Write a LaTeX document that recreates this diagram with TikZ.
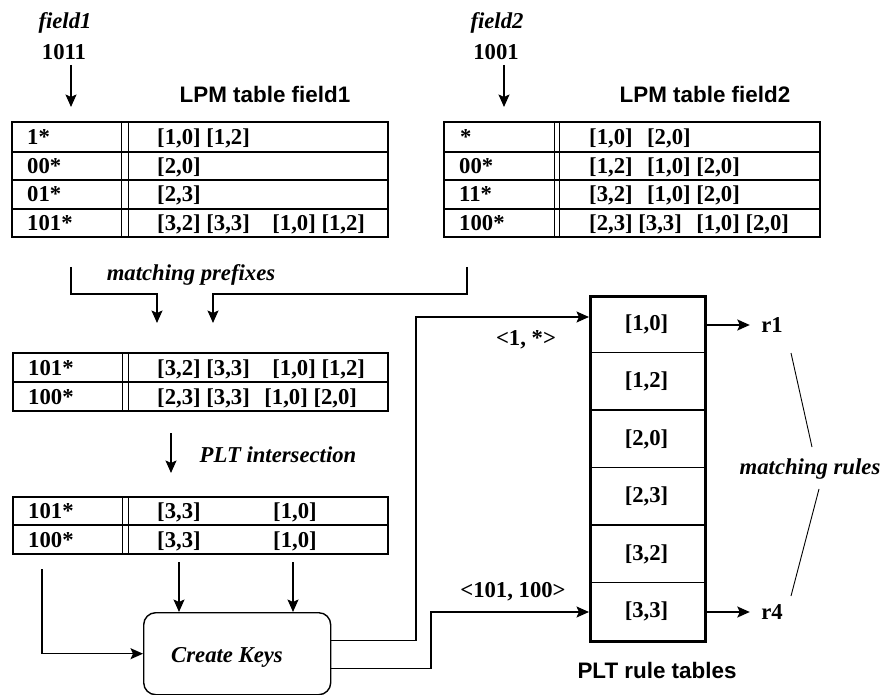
\documentclass[tikz,border=0pt]{standalone}
\usepackage{fontspec}
\setmainfont{Liberation Serif}
\newfontfamily\hsans{Liberation Sans}
\usetikzlibrary{arrows.meta,calc}
\begin{document}
\begin{tikzpicture}[x=1pt,y=-1pt,
  txt/.style={font=\fontsize{22.7}{26}\selectfont\bfseries, inner sep=0pt, anchor=base west},
  ctxt/.style={font=\fontsize{22.7}{26}\selectfont\bfseries, inner sep=0pt},
  itl/.style={font=\fontsize{22.7}{26}\selectfont\bfseries\itshape, inner sep=0pt},
  hd/.style={font=\hsans\fontsize{22.4}{26}\selectfont\bfseries, inner sep=0pt},
  arr/.style={line width=1.5pt, -{Stealth[length=12.5pt,width=11pt,inset=2.5pt]}},
  frame/.style={line width=2.8pt},
  rowline/.style={line width=1.8pt},
  thinframe/.style={line width=1.4pt},
  dbl/.style={line width=0.9pt}
]
\useasboundingbox (0,0) rectangle (884,695);

% ---------- headings and inputs
\node[itl] (f1) at (65,23) {field1};
\node[ctxt] (v1) at (64,52) {1011};
\node[itl] (f2) at (497,23) {field2};
\node[ctxt] (v2) at (496,52) {1001};
\node[hd] (h1) at (265,94) {LPM table field1};
\node[hd] (h2) at (705,94) {LPM table field2};
\coordinate (a1s) at (71,65); \coordinate (a1e) at (71,107);
\coordinate (a2s) at (504,65); \coordinate (a2e) at (504,107);
\draw[arr] (a1s) -- (a1e);
\draw[arr] (a2s) -- (a2e);

% ---------- LPM table field1
\draw[frame] (12,122) rectangle (388,237);
\draw[rowline] (12,152) -- (388,152) (12,180) -- (388,180) (12,209) -- (388,209);
\draw[dbl] (121,122) -- (121,237) (128,122) -- (128,237);
\node[txt] (t1a) at (27,144.5) {1*};
\node[txt] (t1b) at (27,173.5) {00*};
\node[txt] (t1c) at (27,202) {01*};
\node[txt] (t1d) at (27,230.5) {101*};
\node[txt] (t1e) at (157,144.5) {[1,0] [1,2]};
\node[txt] (t1f) at (157,173.5) {[2,0]};
\node[txt] (t1g) at (157,202) {[2,3]};
\node[txt] (t1h) at (157,230.5) {[3,2] [3,3]\hspace{22.5pt}[1,0] [1,2]};

% ---------- LPM table field2
\draw[frame] (444,122) rectangle (820,237);
\draw[rowline] (444,152) -- (820,152) (444,180) -- (820,180) (444,209) -- (820,209);
\draw[dbl] (554,122) -- (554,237) (559,122) -- (559,237);
\node[txt] (t2a) at (460,144.5) {*};
\node[txt] (t2b) at (459,173.5) {00*};
\node[txt] (t2c) at (459,202) {11*};
\node[txt] (t2d) at (459,230.5) {100*};
\node[txt] (t2e) at (589,144.5) {[1,0]\hspace{14.5pt}[2,0]};
\node[txt] (t2f) at (589,173.5) {[1,2]\hspace{14.5pt}[1,0] [2,0]};
\node[txt] (t2g) at (589,202) {[3,2]\hspace{14.5pt}[1,0] [2,0]};
\node[txt] (t2h) at (589,230.5) {[2,3] [3,3]\hspace{14.5pt}[1,0] [2,0]};

% ---------- matching prefixes
\node[itl] (mp) at (191,275) {matching prefixes};
\coordinate (m1a) at (71,267); \coordinate (m1b) at (71,294);
\coordinate (m1c) at (157,294); \coordinate (m1d) at (157,323);
\coordinate (m2a) at (467,267); \coordinate (m2b) at (467,294);
\coordinate (m2c) at (213,294); \coordinate (m2d) at (213,323);
\draw[arr] (m1a) -- (m1b) -- (m1c) -- (m1d);
\draw[arr] (m2a) -- (m2b) -- (m2c) -- (m2d);

% ---------- matched table
\draw[thinframe] (13,353) rectangle (388,411);
\draw[thinframe] (13,382) -- (388,382);
\draw[dbl] (122,353) -- (122,411) (128,353) -- (128,411);
\node[txt] (t3a) at (28,375) {101*};
\node[txt] (t3b) at (28,404) {100*};
\node[txt] (t3c) at (157,375) {[3,2] [3,3]\hspace{22.5pt}[1,0] [1,2]};
\node[txt] (t3d) at (157,404) {[2,3] [3,3]\hspace{14.5pt}[1,0] [2,0]};

% ---------- PLT intersection
\coordinate (pis) at (171,433); \coordinate (pie) at (171,473);
\draw[arr] (pis) -- (pie);
\node[itl] (pi) at (278,455) {PLT intersection};

% ---------- intersected table
\draw[thinframe] (13,497) rectangle (388,554);
\draw[thinframe] (13,525) -- (388,525);
\draw[dbl] (122,497) -- (122,554) (128,497) -- (128,554);
\node[txt] (t4a) at (28,518.5) {101*};
\node[txt] (t4b) at (28,547) {100*};
\node[txt] (t4c) at (157,518.5) {[3,3]};
\node[txt] (t4d) at (273,518.5) {[1,0]};
\node[txt] (t4e) at (157,547) {[3,3]};
\node[txt] (t4f) at (273,547) {[1,0]};

% ---------- Create Keys
\node[draw, line width=1.4pt, rounded corners=12pt, minimum width=187pt,
      minimum height=82pt, inner sep=0pt, anchor=north west] (ck) at (143,612) {};
\node[itl] (ckl) at (227,657) {Create Keys};
\coordinate (d0) at (42,569);
\coordinate (d1) at (179,562);
\coordinate (d2) at (293,562);
\draw[arr] (d0) |- (ck.west);
\draw[arr] (d1) -- (d1 |- ck.north);
\draw[arr] (d2) -- (d2 |- ck.north);

% ---------- PLT rule tables
\node[draw, frame, minimum width=115pt, minimum height=345pt, inner sep=0pt,
      anchor=north west] (plt) at (589,295) {};
\draw[rowline] (589,352.5) -- (704,352.5) (589,410) -- (704,410) (589,467.5) -- (704,467.5)
  (589,525) -- (704,525) (589,582.5) -- (704,582.5);
\node[ctxt] (c1) at (646.5,324) {[1,0]};
\node[ctxt] (c2) at (646.5,381) {[1,2]};
\node[ctxt] (c3) at (646.5,439) {[2,0]};
\node[ctxt] (c4) at (646.5,496) {[2,3]};
\node[ctxt] (c5) at (646.5,554) {[3,2]};
\node[ctxt] (c6) at (646.5,611) {[3,3]};
\node[hd] (pr) at (657,670) {PLT rule tables};

% keys to PLT
\coordinate (k1) at (416,317);
\coordinate (k2) at (431,612);
\draw[arr] ([yshift=13pt]ck.east) -| (k1) -- (k1 -| plt.west);
\draw[arr] ([yshift=-15pt]ck.east) -| (k2) -- (k2 -| plt.west);
\node[ctxt] (key1) at (526,340) {<1, *>};
\node[ctxt] (key2) at (513,592) {<101, 100>};

% results
\node[ctxt] (r1) at (772,325) {r1};
\node[ctxt] (r4) at (772,612) {r4};
\coordinate (o1) at (704,325);
\coordinate (o4) at (704,612);
\draw[arr] (o1 -| plt.east) -- ++(43,0);
\draw[arr] (o4 -| plt.east) -- ++(43,0);
\node[itl] (mr) at (810,469) {matching rules};
\coordinate (l1a) at (791,353); \coordinate (l1b) at (812,447);
\coordinate (l2a) at (819,489); \coordinate (l2b) at (791,596);
\draw[line width=0.9pt] (l1a) -- (l1b);
\draw[line width=0.9pt] (l2a) -- (l2b);
\end{tikzpicture}
\end{document}
